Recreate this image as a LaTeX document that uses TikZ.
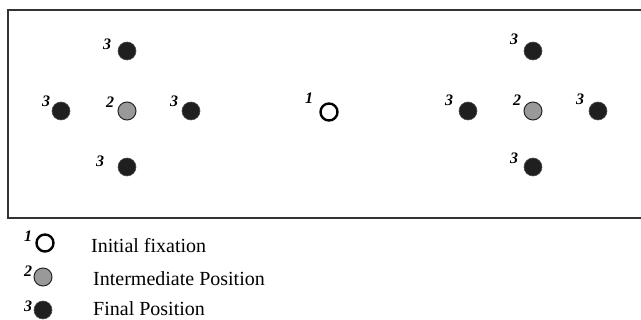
\documentclass[tikz,border=0pt]{standalone}
\usepackage{fontspec}
\setmainfont{Liberation Serif}
\begin{document}
\begin{tikzpicture}[x=1pt,y=-1pt,
  finaldot/.style={circle,fill=black!88,draw=black!70,line width=0.6pt,minimum size=18pt,inner sep=0pt},
  interdot/.style={circle,fill=black!40,draw=black!85,line width=1pt,minimum size=18pt,inner sep=0pt},
  initdot/.style={circle,fill=white,draw=black,line width=2.4pt,minimum size=17pt,inner sep=0pt},
  num/.style={font=\fontsize{16}{16}\selectfont\bfseries\itshape,inner sep=0pt},
  legtext/.style={font=\fontsize{20}{20}\selectfont,anchor=base west,inner sep=0pt}]
\useasboundingbox (0,0) rectangle (641,320);
\draw[line width=2pt,black!80] (641,10) -- (8,10) -- (8,218) -- (641,218);
% left group
\node[finaldot] (lt) at (127,51) {};
\node[finaldot] (ll) at (61,111) {};
\node[interdot] (lc) at (127,111) {};
\node[finaldot] (lr) at (191,111) {};
\node[finaldot] (lb) at (127,167) {};
\node[num] (ltn) at (107,44) {3};
\node[num] (lln) at (46,101) {3};
\node[num] (lcn) at (110,102) {2};
\node[num] (lrn) at (174,101) {3};
\node[num] (lbn) at (100,161) {3};
% center
\node[initdot] (c) at (329,112) {};
\node[num] (cn) at (309,98) {1};
% right group
\node[finaldot] (rt) at (533,51) {};
\node[finaldot] (rl) at (468,111) {};
\node[interdot] (rc) at (533,111) {};
\node[finaldot] (rr) at (598,111) {};
\node[finaldot] (rb) at (533,167) {};
\node[num] (rtn) at (514,39) {3};
\node[num] (rln) at (449,100) {3};
\node[num] (rcn) at (517,100) {2};
\node[num] (rrn) at (580,99) {3};
\node[num] (rbn) at (514,158) {3};
% legend
\node[initdot] (k1) at (45,243) {};
\node[interdot] (k2) at (43,277) {};
\node[finaldot] (k3) at (43,310) {};
\node[num] (k1n) at (28,236) {1};
\node[num] (k2n) at (28,271) {2};
\node[num] (k3n) at (28,306) {3};
\node[legtext] (t1) at (91,253) {Initial fixation};
\node[legtext] (t2) at (93,286) {Intermediate Position};
\node[legtext] (t3) at (93,316) {Final Position};
\end{tikzpicture}
\end{document}
